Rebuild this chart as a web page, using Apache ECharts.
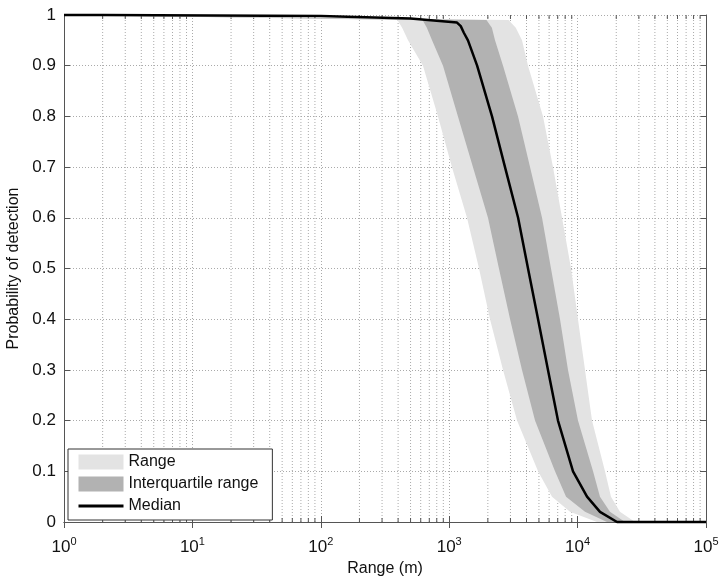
<!DOCTYPE html>
<html>
<head>
<meta charset="utf-8">
<script src="https://cdn.jsdelivr.net/npm/echarts@6/dist/echarts.min.js"></script>
<style>
  html, body { margin: 0; padding: 0; background: #fff; }
  #chart { width: 720px; height: 578px; }
</style>
</head>
<body>
<div id="chart"></div>
<script>
// probability levels shared by the band edges (first point at 1 m, last at 1e5 m)
const probLevels = [1, 0.99, 0.975, 0.95, 0.9, 0.8, 0.7, 0.6, 0.5, 0.4, 0.3, 0.2, 0.1, 0.05, 0.02, 0, 0];
const rangeLowX = [1, 395, 430, 478, 625, 818, 1050, 1376, 1707, 2079, 2626, 3377, 4920, 6320, 8730, 14170, 100000];
const rangeHighX = [1, 2900, 3300, 3690, 4110, 5380, 6430, 7566, 8890, 10070, 11420, 12950, 16340, 18200, 21380, 28000, 100000];
const iqrLowX = [1, 620, 670, 735, 895, 1170, 1530, 2005, 2440, 2980, 3690, 4660, 6670, 8130, 11420, 16940, 100000];
const iqrHighX = [1, 1950, 2150, 2274, 2626, 3437, 4260, 5285, 6206, 7295, 8420, 10070, 13190, 14940, 17870, 23390, 100000];

// median curve
const medianX = [1, 2, 100, 500, 1150, 1230, 1300, 1400, 1650, 2155, 2720, 3440, 4110, 4920, 5880, 7035, 9210, 11840, 14940, 20280, 100000];
const medianY = [1, 1, 0.998, 0.993, 0.985, 0.978, 0.965, 0.95, 0.9, 0.8, 0.7, 0.6, 0.5, 0.4, 0.3, 0.2, 0.1, 0.05, 0.02, 0, 0];

// minor log grid positions (2..9 of each decade)
const minorTicks = [];
for (let d = 0; d < 5; d++) {
  for (let k = 2; k <= 9; k++) minorTicks.push(k * Math.pow(10, d));
}

const font = 'Liberation Sans, Arial, sans-serif';
const gridColor = '#aaaaaa';
const axisColor = '#555555';

function bandRender(lowX, highX, color) {
  return function (params, api) {
    const pts = [];
    for (let i = 0; i < lowX.length; i++) pts.push(api.coord([lowX[i], probLevels[i]]));
    for (let i = highX.length - 1; i >= 0; i--) pts.push(api.coord([highX[i], probLevels[i]]));
    return {
      type: 'polygon',
      shape: { points: pts },
      style: { fill: color }
    };
  };
}

const chart = echarts.init(document.getElementById('chart'));
const option = {
  animation: false,
  textStyle: { fontFamily: font },
  grid: { left: 64, right: 14, top: 15, bottom: 56, outerBoundsMode: 'none', containLabel: false },
  legend: {
    orient: 'vertical',
    left: 68,
    top: 449,
    padding: [5, 14, 6, 9],
    itemWidth: 45,
    itemHeight: 15,
    itemGap: 6,
    backgroundColor: '#fff',
    borderColor: '#333',
    borderWidth: 1,
    borderRadius: 0,
    textStyle: { fontSize: 16, color: '#111', fontFamily: font },
    data: [
      { name: 'Range', icon: 'rect' },
      { name: 'Interquartile range', icon: 'rect' },
      { name: 'Median', itemStyle: { opacity: 0 }, lineStyle: { color: '#000', width: 3 } }
    ]
  },
  xAxis: [{
    type: 'log',
    logBase: 10,
    min: 1,
    max: 100000,
    name: 'Range (m)',
    nameLocation: 'middle',
    nameGap: 37,
    nameTextStyle: { fontSize: 16, color: '#111' },
    axisLine: { lineStyle: { color: axisColor } },
    axisTick: { inside: true, length: 6, lineStyle: { color: axisColor } },
    splitLine: { show: true, lineStyle: { color: gridColor, type: [1, 2] } },
    axisLabel: {
      margin: 14,
      color: '#111',
      formatter: function (v) {
        return '{b|10}{s|' + Math.round(Math.log10(v)) + '}';
      },
      rich: {
        b: { fontSize: 17, color: '#111', lineHeight: 20, verticalAlign: 'bottom' },
        s: { fontSize: 11, color: '#111', lineHeight: 20, verticalAlign: 'top' }
      }
    }
  }, {
    type: 'log',
    logBase: 10,
    min: 1,
    max: 100000,
    position: 'top',
    axisLine: { lineStyle: { color: axisColor } },
    axisTick: { inside: true, length: 6, lineStyle: { color: axisColor } },
    axisLabel: { show: false },
    splitLine: { show: false }
  }],
  yAxis: [{
    type: 'value',
    min: 0,
    max: 1,
    interval: 0.1,
    name: 'Probability of detection',
    nameLocation: 'middle',
    nameGap: 34,
    nameTextStyle: { fontSize: 16, color: '#111' },
    axisLine: { show: true, lineStyle: { color: axisColor } },
    axisTick: { show: true, inside: true, length: 6, lineStyle: { color: axisColor } },
    splitLine: { show: true, lineStyle: { color: gridColor, type: [1, 2] } },
    axisLabel: { fontSize: 17, color: '#111', margin: 8 }
  }, {
    type: 'value',
    min: 0,
    max: 1,
    interval: 0.1,
    position: 'right',
    axisLine: { show: true, lineStyle: { color: axisColor } },
    axisTick: { show: true, inside: true, length: 6, lineStyle: { color: axisColor } },
    axisLabel: { show: false },
    splitLine: { show: false }
  }],
  series: [
    {
      name: 'minor grid',
      type: 'custom',
      silent: true,
      z: 1,
      data: minorTicks.map(v => [v, 0]),
      encode: { x: 0, y: 1 },
      renderItem: function (params, api) {
        const x = api.value(0);
        const p0 = api.coord([x, 0]);
        const p1 = api.coord([x, 1]);
        return {
          type: 'group',
          children: [
            { type: 'line', shape: { x1: p0[0], y1: p0[1], x2: p1[0], y2: p1[1] },
              style: { stroke: gridColor, lineWidth: 1, lineDash: [1, 2] } },
            { type: 'line', shape: { x1: p0[0], y1: p0[1], x2: p0[0], y2: p0[1] - 4 },
              style: { stroke: axisColor, lineWidth: 1 } },
            { type: 'line', shape: { x1: p1[0], y1: p1[1], x2: p1[0], y2: p1[1] + 4 },
              style: { stroke: axisColor, lineWidth: 1 } }
          ]
        };
      }
    },
    {
      name: 'Range',
      type: 'custom',
      z: 2,
      itemStyle: { color: '#e3e3e3' },
      data: [[1, 1]],
      renderItem: bandRender(rangeLowX, rangeHighX, '#e3e3e3')
    },
    {
      name: 'Interquartile range',
      type: 'custom',
      z: 2,
      itemStyle: { color: '#b2b2b2' },
      data: [[1, 1]],
      renderItem: bandRender(iqrLowX, iqrHighX, '#b2b2b2')
    },
    {
      name: 'Median',
      type: 'line',
      z: 3,
      symbol: 'none',
      clip: false,
      color: '#000',
      lineStyle: { color: '#000', width: 2.5 },
      data: medianX.map((x, i) => [x, medianY[i]])
    }
  ]
};
chart.setOption(option);
</script>
</body>
</html>
